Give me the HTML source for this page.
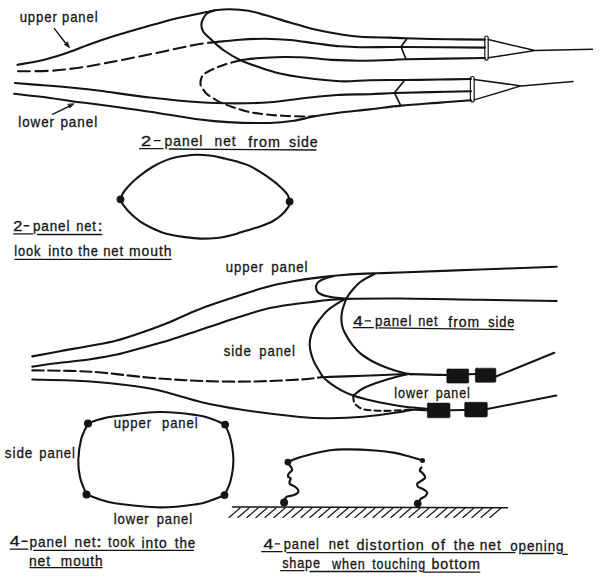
<!DOCTYPE html>
<html><head><meta charset="utf-8"><style>
html,body{margin:0;padding:0;background:#fff;}
svg{display:block;}
svg path, svg rect{fill:none;stroke:#141414;stroke-linecap:round;stroke-linejoin:round;}
svg .f{fill:#141414;}
svg circle{fill:#141414;stroke:none;}
svg text{font-family:"Liberation Sans",sans-serif;fill:#141414;stroke:#141414;stroke-width:0.3px;}
</style></head><body>
<svg width="600" height="580" viewBox="0 0 600 580">

<path d="M17.5 64.7 C21.2 64.0 33.5 62.2 40.0 60.8 C46.5 59.4 51.7 57.8 56.7 56.3 C61.7 54.8 64.5 53.8 70.0 51.8 C75.5 49.8 82.5 46.9 90.0 44.2 C97.5 41.5 105.0 38.9 115.0 35.8 C125.0 32.7 139.8 28.5 150.0 25.6 C160.2 22.7 169.3 20.2 176.0 18.5 C182.7 16.8 184.9 16.6 190.0 15.5 C195.1 14.4 202.5 12.9 206.7 12.0 C210.9 11.1 211.1 10.8 215.0 10.3 C218.9 9.8 224.4 9.1 230.0 9.2 C235.6 9.3 242.5 9.8 248.3 10.8 C254.1 11.8 258.1 13.1 265.0 15.0 C271.9 16.9 284.2 20.8 290.0 22.5 C295.8 24.2 295.8 24.1 300.0 25.3 C304.2 26.5 308.3 28.0 315.0 29.5 C321.7 31.0 332.5 33.0 340.0 34.2 C347.5 35.4 351.7 36.2 360.0 36.8 C368.3 37.4 382.3 37.4 390.0 37.6 C397.7 37.9 396.0 38.0 406.0 38.3 C416.0 38.6 436.8 39.1 450.0 39.3 C463.2 39.5 479.2 39.5 485.0 39.6" stroke-width="2.10"/>
<path d="M215.0 10.3 C213.7 10.8 208.9 12.2 207.0 13.5 C205.1 14.8 204.4 16.2 203.5 18.0 C202.6 19.8 201.3 22.2 201.3 24.5 C201.3 26.8 201.8 29.4 203.5 32.0 C205.2 34.6 208.4 37.0 211.7 40.0 C215.0 43.0 218.6 46.7 223.3 50.0 C228.0 53.3 233.9 57.1 240.0 60.0 C246.1 62.9 253.3 65.2 260.0 67.5 C266.7 69.8 272.8 71.8 280.0 73.5 C287.2 75.2 293.0 76.2 303.0 77.5 C313.0 78.8 328.8 80.8 340.0 81.3 C351.2 81.8 359.3 80.4 370.0 80.2 C380.7 80.0 392.3 80.1 404.0 80.0 C415.7 79.9 428.8 79.7 440.0 79.5 C451.2 79.3 465.8 79.1 471.0 79.0" stroke-width="2.10"/>
<path d="M18.0 71.3 C23.3 71.2 40.5 71.3 50.0 70.8 C59.5 70.3 66.7 69.4 75.0 68.3 C83.3 67.2 87.5 66.5 100.0 64.2 C112.5 61.9 135.0 57.4 150.0 54.3 C165.0 51.2 180.6 47.7 190.0 45.8 C199.4 43.9 202.9 43.6 206.7 43.0 C210.5 42.4 211.9 42.4 213.0 42.3" stroke-width="2.10" stroke-dasharray="12 5.5"/>
<path d="M213.0 42.3 C217.5 41.9 231.3 40.3 240.0 39.7 C248.7 39.1 256.7 38.7 265.0 38.7 C273.3 38.8 281.7 39.2 290.0 40.0 C298.3 40.8 306.7 42.2 315.0 43.3 C323.3 44.3 332.5 45.6 340.0 46.3 C347.5 46.9 351.7 47.1 360.0 47.2 C368.3 47.3 383.2 47.0 390.0 47.0 C396.8 47.0 385.2 46.9 401.0 47.0 C416.8 47.1 471.0 47.5 485.0 47.6" stroke-width="2.10"/>
<path d="M240.0 60.3 C242.8 60.0 249.5 58.8 256.7 58.3 C263.9 57.8 276.1 57.2 283.3 57.0 C290.5 56.8 294.7 57.1 300.0 57.3 C305.3 57.5 309.7 57.9 315.0 58.3 C320.3 58.7 324.2 59.5 331.7 59.9 C339.2 60.3 350.3 60.7 360.0 60.7 C369.7 60.7 382.3 60.2 390.0 60.0 C397.7 59.8 390.2 59.5 406.0 59.2 C421.8 58.9 471.8 58.2 485.0 58.0" stroke-width="2.10"/>
<path d="M240.0 60.3 C239.4 60.5 239.2 60.6 236.7 61.3 C234.2 62.0 228.9 63.2 225.0 64.5 C221.1 65.8 216.6 67.5 213.3 69.0 C210.0 70.5 206.9 72.1 205.0 73.5 C203.1 74.9 202.4 75.4 201.7 77.2 C200.9 79.0 200.3 82.2 200.5 84.2 C200.7 86.2 202.0 87.5 203.0 89.0 C204.0 90.5 204.8 92.1 206.3 93.5 C207.8 94.9 209.7 96.0 212.0 97.5 C214.3 99.0 216.8 100.8 220.3 102.4 C223.8 104.0 228.3 105.6 233.0 107.2 C237.7 108.8 243.0 110.6 248.3 111.8 C253.6 113.0 259.2 113.6 265.0 114.3 C270.8 115.0 276.6 115.4 283.3 115.8 C290.0 116.2 299.9 116.4 305.0 116.5 C310.1 116.6 312.5 116.2 314.0 116.2" stroke-width="2.10" stroke-dasharray="9 5"/>
<path d="M15.0 83.0 C20.8 83.5 40.0 85.0 50.0 85.8 C60.0 86.6 66.7 87.2 75.0 88.0 C83.3 88.8 87.5 89.2 100.0 90.8 C112.5 92.4 133.3 95.6 150.0 97.5 C166.7 99.4 185.6 101.3 200.0 102.3 C214.4 103.3 225.0 103.4 236.7 103.4 C248.4 103.4 258.9 103.1 270.0 102.2 C281.1 101.3 292.2 99.4 303.3 98.2 C314.4 97.0 325.6 95.7 336.7 95.0 C347.8 94.3 360.3 94.5 370.0 94.2 C379.7 93.9 385.0 93.3 395.0 93.0 C405.0 92.7 417.3 92.4 430.0 92.1 C442.7 91.8 464.2 91.4 471.0 91.3" stroke-width="2.10"/>
<path d="M14.2 93.8 C20.2 94.5 39.9 96.7 50.0 98.0 C60.1 99.3 66.7 100.6 75.0 101.7 C83.3 102.8 87.5 103.0 100.0 104.7 C112.5 106.4 133.3 109.2 150.0 111.7 C166.7 114.2 187.1 117.8 200.0 119.5 C212.9 121.2 215.9 121.5 227.6 122.1 C239.3 122.7 258.8 123.2 270.0 123.0 C281.2 122.8 287.8 121.7 295.0 120.6 C302.2 119.5 306.4 117.8 313.3 116.5 C320.2 115.2 327.2 114.2 336.7 113.0 C346.1 111.8 359.3 110.6 370.0 109.4 C380.7 108.2 389.3 106.7 401.0 105.6 C412.7 104.5 428.3 103.5 440.0 102.6 C451.7 101.7 465.8 100.7 471.0 100.3" stroke-width="2.10"/>
<path d="M407 38.6 L401 46.8 L406 59.2" stroke-width="1.7"/>
<path d="M405 79.8 L394.5 92.8 L400.5 105.2" stroke-width="1.7"/>
<rect x="484.8" y="36" width="3.4" height="24.2" rx="1.7" stroke-width="1.2"/>
<rect x="470.4" y="76.5" width="3.8" height="25.4" rx="1.9" stroke-width="1.2"/>
<path d="M488.2 39.6 L535 50.6 L488.2 57.8 M535 50.6 L592.5 49.3" stroke-width="1.5"/>
<path d="M474.2 79.4 L521 85.9 L474.2 99.9 M521 85.9 L573 81.6" stroke-width="1.5"/>
<path d="M54.4 28.6 L66.5 44.2" stroke-width="1.4"/>
<path d="M69.2 47.6 L64.3 44.5 L67.3 42.1 Z" class="f" stroke-width="0.8"/>
<path d="M52.5 114.3 L70 105.8" stroke-width="1.4"/>
<path d="M73.8 103.9 L69.7 108.0 L68.0 104.6 Z" class="f" stroke-width="0.8"/>
<text x="19.65" y="21.70" font-size="14.50" letter-spacing="1.00" textLength="38.18" lengthAdjust="spacingAndGlyphs">upper</text>
<text x="62.06" y="21.70" font-size="14.50" letter-spacing="1.00" textLength="36.41" lengthAdjust="spacingAndGlyphs">panel</text>
<text x="18.30" y="126.80" font-size="14.50" letter-spacing="1.00" textLength="36.60" lengthAdjust="spacingAndGlyphs">lower</text>
<text x="60.38" y="126.80" font-size="14.50" letter-spacing="1.00" textLength="37.71" lengthAdjust="spacingAndGlyphs">panel</text>
<text x="141.08" y="145.80" font-size="14.50" letter-spacing="1.00" textLength="11.39" lengthAdjust="spacingAndGlyphs">2</text>
<text x="164.60" y="146.10" font-size="14.50" letter-spacing="1.00" textLength="38.78" lengthAdjust="spacingAndGlyphs">panel</text>
<text x="214.59" y="146.30" font-size="14.50" letter-spacing="1.00" textLength="21.96" lengthAdjust="spacingAndGlyphs">net</text>
<text x="248.30" y="146.50" font-size="14.50" letter-spacing="1.00" textLength="32.64" lengthAdjust="spacingAndGlyphs">from</text>
<text x="288.91" y="147.00" font-size="14.50" letter-spacing="1.00" textLength="29.79" lengthAdjust="spacingAndGlyphs">side</text>
<path d="M154.2 140.6 L160.1 140.6" stroke-width="1.4" stroke-linecap="butt"/>
<path d="M139.7 148.7 L163.0 148.7" stroke-width="1.3" stroke-linecap="butt"/>
<path d="M169.2 149.0 L316.0 150.0" stroke-width="1.3" stroke-linecap="butt"/>
<path d="M120.5 199.3 C120.9 198.3 121.7 195.4 122.9 193.4 C124.1 191.4 125.4 189.5 127.5 187.2 C129.6 184.9 132.7 181.8 135.3 179.5 C137.9 177.2 140.2 175.4 143.0 173.3 C145.8 171.2 149.2 168.9 152.3 167.0 C155.4 165.1 158.3 163.6 161.6 162.1 C164.9 160.6 168.4 159.2 172.0 158.2 C175.6 157.2 179.3 156.6 183.4 156.0 C187.5 155.4 192.1 154.7 196.8 154.7 C201.5 154.7 207.1 155.2 211.8 155.8 C216.5 156.5 221.0 157.7 225.0 158.6 C229.0 159.5 232.3 160.2 236.0 161.3 C239.7 162.4 243.4 163.2 247.4 164.9 C251.4 166.6 255.7 169.1 259.8 171.7 C263.9 174.2 268.6 177.5 272.2 180.2 C275.8 182.9 278.9 185.5 281.5 188.0 C284.1 190.5 286.3 192.7 287.7 195.0 C289.1 197.3 289.3 200.5 289.6 201.6" stroke-width="2.10"/>
<path d="M120.5 199.3 C120.9 200.1 121.2 201.9 122.9 204.3 C124.6 206.7 127.8 210.8 130.6 213.6 C133.4 216.4 136.5 219.0 139.9 221.3 C143.3 223.6 147.2 225.7 150.8 227.5 C154.4 229.3 158.1 230.9 161.6 232.2 C165.1 233.4 168.4 234.2 172.0 235.0 C175.6 235.8 178.7 236.3 183.4 236.9 C188.1 237.5 194.5 238.4 200.1 238.6 C205.7 238.8 212.1 238.4 216.8 238.0 C221.5 237.6 225.5 236.5 228.5 235.9 C231.5 235.3 231.3 235.4 235.0 234.3 C238.7 233.2 246.1 230.8 250.5 229.4 C254.9 228.0 257.8 227.3 261.4 226.0 C265.0 224.7 268.8 223.3 272.2 221.5 C275.6 219.7 278.8 217.6 281.5 215.1 C284.2 212.6 287.1 208.8 288.5 206.6 C289.9 204.3 289.4 202.4 289.6 201.6" stroke-width="2.10"/>
<circle cx="120.5" cy="199.3" r="3.9" class="f"/>
<circle cx="289.6" cy="201.6" r="3.9" class="f"/>
<text x="13.37" y="230.70" font-size="14.50" letter-spacing="1.00" textLength="10.29" lengthAdjust="spacingAndGlyphs">2</text>
<text x="32.88" y="230.70" font-size="14.50" letter-spacing="1.00" textLength="37.54" lengthAdjust="spacingAndGlyphs">panel</text>
<text x="76.25" y="230.70" font-size="14.50" letter-spacing="1.00" textLength="20.53" lengthAdjust="spacingAndGlyphs">net</text>
<text x="97.67" y="230.70" font-size="14.50" letter-spacing="1.00" textLength="5.83" lengthAdjust="spacingAndGlyphs">:</text>
<path d="M24.2 225.8 L28.8 225.8" stroke-width="1.4" stroke-linecap="butt"/>
<path d="M13.8 233.9 L32.5 233.9" stroke-width="1.3" stroke-linecap="butt"/>
<path d="M37.5 234.5 L101.7 234.5" stroke-width="1.3" stroke-linecap="butt"/>
<text x="14.13" y="256.00" font-size="14.50" letter-spacing="1.00" textLength="27.24" lengthAdjust="spacingAndGlyphs">look</text>
<text x="48.20" y="256.00" font-size="14.50" letter-spacing="1.00" textLength="25.39" lengthAdjust="spacingAndGlyphs">into</text>
<text x="78.31" y="256.00" font-size="14.50" letter-spacing="1.00" textLength="20.34" lengthAdjust="spacingAndGlyphs">the</text>
<text x="103.13" y="256.00" font-size="14.50" letter-spacing="1.00" textLength="20.97" lengthAdjust="spacingAndGlyphs">net</text>
<text x="129.08" y="256.00" font-size="14.50" letter-spacing="1.00" textLength="43.38" lengthAdjust="spacingAndGlyphs">mouth</text>
<path d="M15.0 259.4 L171.0 259.4" stroke-width="1.3" stroke-linecap="butt"/>
<text x="225.75" y="271.60" font-size="14.50" letter-spacing="1.00" textLength="38.18" lengthAdjust="spacingAndGlyphs">upper</text>
<text x="271.24" y="271.60" font-size="14.50" letter-spacing="1.00" textLength="37.27" lengthAdjust="spacingAndGlyphs">panel</text>
<path d="M32.3 356.4 C36.9 355.5 50.3 353.0 60.0 351.2 C69.7 349.4 81.0 347.6 90.5 345.8 C100.0 344.0 107.9 342.8 116.7 340.5 C125.5 338.2 134.4 335.1 143.3 332.0 C152.2 328.9 160.6 325.9 170.0 322.0 C179.4 318.1 188.3 313.3 200.0 308.9 C211.7 304.4 228.9 299.0 240.0 295.3 C251.1 291.6 257.8 289.2 266.7 286.9 C275.6 284.6 284.4 282.9 293.3 281.3 C302.2 279.7 312.2 278.4 320.0 277.4 C327.8 276.4 333.3 275.9 340.0 275.3 C346.7 274.7 353.8 274.2 360.0 273.9 C366.2 273.6 370.8 273.5 377.5 273.3 C384.2 273.1 382.9 273.1 400.0 272.5 C417.1 271.9 453.9 270.5 480.0 269.5 C506.1 268.5 543.9 267.2 556.7 266.7" stroke-width="2.10"/>
<path d="M32.3 366.6 C36.9 366.0 50.3 364.0 60.0 362.8 C69.7 361.6 81.0 360.6 90.5 359.2 C100.0 357.8 107.9 356.6 116.7 354.6 C125.5 352.6 134.4 349.8 143.3 347.4 C152.2 345.0 160.6 342.9 170.0 340.0 C179.4 337.1 188.3 333.9 200.0 330.0 C211.7 326.1 228.9 320.3 240.0 316.8 C251.1 313.3 257.8 310.9 266.7 308.8 C275.6 306.7 286.1 305.3 293.3 304.2 C300.5 303.1 304.7 302.9 310.0 302.3 C315.3 301.7 319.0 300.9 325.0 300.3 C331.0 299.7 333.5 299.2 346.0 298.9 C358.5 298.6 377.7 298.4 400.0 298.5 C422.3 298.6 453.9 299.4 480.0 299.8 C506.1 300.2 543.9 300.8 556.7 301.0" stroke-width="2.10"/>
<path d="M333.0 276.2 C331.7 276.6 327.3 277.6 325.0 278.5 C322.7 279.4 320.5 280.4 319.0 281.5 C317.5 282.6 316.6 283.9 316.2 285.2 C315.8 286.5 316.1 288.1 316.3 289.2 C316.5 290.3 317.0 291.0 317.5 291.7 C318.0 292.4 318.2 292.8 319.5 293.5 C320.8 294.2 322.8 295.2 325.0 295.8 C327.2 296.4 329.0 296.8 332.5 297.3 C336.0 297.8 343.8 298.4 346.0 298.6" stroke-width="2.10"/>
<path d="M32.3 370.4 C42.0 370.6 70.9 370.5 90.5 371.7 C110.1 372.9 131.5 376.1 150.0 377.7 C168.5 379.2 184.5 380.4 201.7 381.0 C218.9 381.6 237.0 381.8 253.4 381.5 C269.8 381.2 288.7 380.2 300.0 379.5 C311.3 378.8 317.5 377.6 321.0 377.2" stroke-width="2.10" stroke-dasharray="11.5 4.4"/>
<path d="M321.0 377.2 C322.5 377.1 322.9 377.1 330.0 376.9 C337.1 376.7 351.6 376.2 363.3 375.8 C375.0 375.4 392.2 374.5 400.0 374.2 C407.8 373.9 405.0 374.0 410.0 374.1 C415.0 374.2 423.8 374.5 430.0 374.6 C436.2 374.8 444.2 374.9 447.0 375.0" stroke-width="2.10"/>
<path d="M32.3 379.5 C42.0 379.8 70.9 380.0 90.5 381.5 C110.1 383.0 131.5 385.1 150.0 388.5 C168.5 391.9 186.6 398.7 201.7 402.2 C216.8 405.7 224.1 407.0 240.5 409.5 C256.9 412.0 285.1 415.5 300.0 417.0 C314.9 418.5 319.4 418.4 330.0 418.3 C340.6 418.2 352.2 417.7 363.3 416.7 C374.4 415.7 388.4 413.7 396.7 412.5 C405.0 411.3 408.2 410.1 413.3 409.7 C418.4 409.3 425.0 410.2 427.3 410.3" stroke-width="2.10"/>
<path d="M374.5 274.0 C372.2 275.2 364.8 278.8 361.0 281.5 C357.2 284.2 354.4 287.8 352.0 290.5 C349.6 293.2 348.2 295.5 346.8 298.0 C345.4 300.5 344.6 303.2 343.8 305.5 C343.0 307.8 342.4 309.6 342.0 312.0 C341.6 314.4 341.3 317.3 341.4 320.0 C341.5 322.7 341.9 325.5 342.8 328.3 C343.7 331.1 345.3 333.9 346.9 336.6 C348.5 339.4 350.2 342.1 352.4 344.8 C354.6 347.6 357.1 350.6 360.0 353.1 C362.9 355.6 366.7 358.0 370.0 360.0 C373.3 362.0 376.1 363.3 380.0 365.0 C383.9 366.7 389.1 368.6 393.3 370.0 C397.5 371.4 401.9 372.6 405.0 373.3 C408.1 374.0 410.8 374.1 412.0 374.2" stroke-width="2.10"/>
<path d="M346.0 298.8 C345.0 299.3 343.0 299.9 340.0 301.8 C337.0 303.7 331.4 307.0 328.0 310.0 C324.6 313.0 321.8 316.7 319.3 320.0 C316.8 323.3 314.7 326.2 313.1 329.7 C311.5 333.1 310.4 337.3 309.9 340.7 C309.4 344.1 309.6 346.9 310.3 350.3 C311.0 353.8 312.3 357.9 313.8 361.4 C315.3 364.8 317.8 368.5 319.3 371.0 C320.8 373.5 321.0 374.5 322.8 376.6 C324.6 378.7 327.2 381.1 330.3 383.4 C333.4 385.7 337.7 388.3 341.4 390.3 C345.1 392.3 348.5 393.8 352.4 395.2 C356.3 396.6 360.4 397.8 365.0 399.0 C369.6 400.2 373.3 401.2 380.0 402.5 C386.7 403.8 397.2 405.7 405.0 406.7 C412.8 407.7 423.3 408.4 427.0 408.7" stroke-width="2.10"/>
<path d="M408.0 374.0 C405.8 374.6 399.7 376.0 395.0 377.3 C390.3 378.6 385.3 379.9 380.0 381.7 C374.7 383.5 367.8 386.0 363.3 388.3 C358.9 390.6 355.0 394.3 353.3 395.5" stroke-width="2.10"/>
<path d="M353.3 395.5 C353.4 396.2 353.2 398.5 353.6 400.0 C354.0 401.5 353.9 403.0 355.5 404.5 C357.1 406.0 359.2 408.1 363.3 409.2 C367.4 410.2 373.9 410.6 380.0 410.8 C386.1 411.0 394.3 410.6 400.0 410.3 C405.7 410.0 411.7 409.4 414.0 409.2" stroke-width="2.10" stroke-dasharray="6 4"/>
<rect x="446.8" y="369" width="21.9" height="14.1" rx="1.2" class="f" stroke-width="0.6"/>
<rect x="475.3" y="368.2" width="20.6" height="14.1" rx="1.2" class="f" stroke-width="0.6"/>
<path d="M468.7 374.3 L475.3 374.0" stroke-width="2.00"/>
<path d="M495.9 376.5 L554.3 352.8" stroke-width="2.00"/>
<rect x="427.3" y="403.1" width="22.7" height="14.7" rx="1.2" class="f" stroke-width="0.6"/>
<rect x="464.7" y="402.3" width="22.6" height="14.7" rx="1.2" class="f" stroke-width="0.6"/>
<path d="M450.0 410.2 L464.7 410.0" stroke-width="2.00"/>
<path d="M487.3 409.0 L556.3 395.6" stroke-width="2.00"/>
<text x="353.35" y="325.50" font-size="14.50" letter-spacing="1.00" textLength="10.85" lengthAdjust="spacingAndGlyphs">4</text>
<text x="374.94" y="326.00" font-size="14.50" letter-spacing="1.00" textLength="37.38" lengthAdjust="spacingAndGlyphs">panel</text>
<text x="418.16" y="326.30" font-size="14.50" letter-spacing="1.00" textLength="20.32" lengthAdjust="spacingAndGlyphs">net</text>
<text x="448.30" y="326.70" font-size="14.50" letter-spacing="1.00" textLength="31.89" lengthAdjust="spacingAndGlyphs">from</text>
<text x="488.14" y="327.10" font-size="14.50" letter-spacing="1.00" textLength="27.06" lengthAdjust="spacingAndGlyphs">side</text>
<path d="M365.4 320.9 L370.4 320.9" stroke-width="1.4" stroke-linecap="butt"/>
<path d="M353.3 327.7 L373.3 327.7" stroke-width="1.3" stroke-linecap="butt"/>
<path d="M378.8 327.9 L513.8 329.6" stroke-width="1.3" stroke-linecap="butt"/>
<text x="223.63" y="355.80" font-size="14.50" letter-spacing="1.00" textLength="28.08" lengthAdjust="spacingAndGlyphs">side</text>
<text x="259.36" y="355.80" font-size="14.50" letter-spacing="1.00" textLength="36.41" lengthAdjust="spacingAndGlyphs">panel</text>
<text x="394.35" y="398.20" font-size="14.50" letter-spacing="1.00" textLength="34.64" lengthAdjust="spacingAndGlyphs">lower</text>
<text x="435.69" y="398.20" font-size="14.50" letter-spacing="1.00" textLength="35.01" lengthAdjust="spacingAndGlyphs">panel</text>
<path d="M88.0 423.4 C90.0 422.7 95.5 420.5 100.0 419.3 C104.5 418.1 105.0 417.5 115.0 416.3 C125.0 415.1 146.5 412.2 160.0 412.0 C173.5 411.8 187.3 413.8 196.0 415.0 C204.7 416.2 207.2 417.4 212.0 419.0 C216.8 420.6 222.9 423.7 225.1 424.6" stroke-width="2.10"/>
<path d="M86.5 494.5 C88.8 495.3 95.2 498.1 100.0 499.5 C104.8 500.9 105.0 501.9 115.0 503.2 C125.0 504.5 146.5 507.2 160.0 507.4 C173.5 507.6 187.3 505.6 196.0 504.4 C204.7 503.2 207.2 501.6 212.0 500.0 C216.8 498.4 222.4 495.9 224.5 495.1" stroke-width="2.10"/>
<path d="M88.0 423.4 C86.9 426.0 82.8 432.9 81.2 439.0 C79.6 445.1 78.5 453.5 78.3 460.0 C78.1 466.5 78.8 472.2 80.2 478.0 C81.6 483.8 85.5 491.8 86.5 494.5" stroke-width="2.10"/>
<path d="M225.1 424.6 C226.0 427.0 229.1 433.1 230.5 439.0 C231.9 444.9 233.4 453.0 233.4 460.0 C233.4 467.0 232.0 475.1 230.5 481.0 C229.0 486.9 225.5 492.8 224.5 495.1" stroke-width="2.10"/>
<circle cx="88.0" cy="423.5" r="4.0" class="f"/>
<circle cx="225.1" cy="424.6" r="3.9" class="f"/>
<circle cx="86.5" cy="494.5" r="4.0" class="f"/>
<circle cx="224.5" cy="495.1" r="3.9" class="f"/>
<text x="113.75" y="427.50" font-size="14.50" letter-spacing="1.00" textLength="38.18" lengthAdjust="spacingAndGlyphs">upper</text>
<text x="162.06" y="427.50" font-size="14.50" letter-spacing="1.00" textLength="36.41" lengthAdjust="spacingAndGlyphs">panel</text>
<text x="4.82" y="457.80" font-size="14.50" letter-spacing="1.00" textLength="28.51" lengthAdjust="spacingAndGlyphs">side</text>
<text x="39.36" y="457.80" font-size="14.50" letter-spacing="1.00" textLength="36.41" lengthAdjust="spacingAndGlyphs">panel</text>
<text x="113.72" y="524.00" font-size="14.50" letter-spacing="1.00" textLength="35.91" lengthAdjust="spacingAndGlyphs">lower</text>
<text x="156.66" y="524.00" font-size="14.50" letter-spacing="1.00" textLength="36.36" lengthAdjust="spacingAndGlyphs">panel</text>
<text x="9.79" y="546.00" font-size="14.50" letter-spacing="1.00" textLength="11.16" lengthAdjust="spacingAndGlyphs">4</text>
<text x="29.53" y="546.60" font-size="14.50" letter-spacing="1.00" textLength="37.81" lengthAdjust="spacingAndGlyphs">panel</text>
<text x="74.59" y="547.00" font-size="14.50" letter-spacing="1.00" textLength="21.96" lengthAdjust="spacingAndGlyphs">net</text>
<text x="96.08" y="547.00" font-size="14.50" letter-spacing="1.00" textLength="7.28" lengthAdjust="spacingAndGlyphs">:</text>
<text x="108.01" y="547.40" font-size="14.50" letter-spacing="1.00" textLength="27.45" lengthAdjust="spacingAndGlyphs">took</text>
<text x="141.57" y="547.60" font-size="14.50" letter-spacing="1.00" textLength="26.22" lengthAdjust="spacingAndGlyphs">into</text>
<text x="174.80" y="547.80" font-size="14.50" letter-spacing="1.00" textLength="21.32" lengthAdjust="spacingAndGlyphs">the</text>
<path d="M22.1 541.3 L27.1 541.3" stroke-width="1.4" stroke-linecap="butt"/>
<path d="M10.2 549.2 L27.9 549.2" stroke-width="1.3" stroke-linecap="butt"/>
<path d="M33.8 550.3 L193.5 550.3" stroke-width="1.3" stroke-linecap="butt"/>
<text x="28.88" y="565.50" font-size="14.50" letter-spacing="1.00" textLength="22.18" lengthAdjust="spacingAndGlyphs">net</text>
<text x="60.84" y="565.50" font-size="14.50" letter-spacing="1.00" textLength="42.74" lengthAdjust="spacingAndGlyphs">mouth</text>
<path d="M29.8 567.6 L102.2 567.6" stroke-width="1.3" stroke-linecap="butt"/>
<path d="M287.9 462.1 C289.9 461.3 293.0 459.2 300.0 457.2 C307.0 455.2 321.8 451.6 330.0 450.3 C338.2 449.0 341.5 449.4 349.0 449.4 C356.5 449.4 367.3 449.9 375.0 450.5 C382.7 451.1 389.2 451.9 395.0 452.9 C400.8 453.9 404.9 455.2 409.5 456.5 C414.1 457.8 420.3 459.8 422.5 460.5" stroke-width="2.10"/>
<path d="M289.3 464.8 C289.6 465.3 290.9 466.7 291.4 467.6 C291.8 468.5 292.5 469.3 292.0 470.3 C291.5 471.3 289.3 472.8 288.6 473.8 C287.9 474.9 287.6 475.8 288.0 476.6 C288.4 477.4 290.4 477.8 290.7 478.6 C291.0 479.4 289.7 480.5 289.6 481.4 C289.5 482.3 289.2 483.3 290.0 484.1 C290.8 484.9 292.8 485.3 294.1 486.2 C295.4 487.1 297.4 488.5 298.0 489.7 C298.6 490.9 298.4 492.2 297.6 493.1 C296.8 494.0 295.1 494.6 293.4 495.2 C291.7 495.8 288.7 495.9 287.2 496.6 C285.7 497.3 284.9 498.9 284.5 499.3" stroke-width="2.20"/>
<path d="M421.5 467.5 C421.2 468.0 419.5 469.3 419.8 470.4 C420.1 471.5 422.5 472.8 423.4 474.0 C424.3 475.2 425.5 476.5 425.2 477.6 C424.9 478.7 422.9 479.6 421.6 480.6 C420.3 481.6 417.9 482.6 417.3 483.6 C416.7 484.6 417.1 485.8 418.0 486.7 C418.9 487.6 421.3 488.1 422.8 489.0 C424.3 489.9 426.5 491.0 427.0 492.1 C427.5 493.2 426.8 494.6 425.8 495.7 C424.8 496.8 422.1 497.8 421.0 498.7 C419.9 499.6 419.5 500.6 419.2 501.0" stroke-width="2.20"/>
<circle cx="287.9" cy="462.1" r="3.4" class="f"/>
<circle cx="422.5" cy="460.5" r="2.5" class="f"/>
<circle cx="284.1" cy="502.6" r="4.0" class="f"/>
<circle cx="417.7" cy="503.6" r="3.8" class="f"/>
<path d="M232.5 507.0 L507.5 507.8" stroke-width="1.60"/>
<path d="M229.0 517.5 L240.0 508 M238.0 517.5 L249.0 508 M247.0 517.5 L258.0 508 M256.0 517.5 L267.0 508 M265.0 517.5 L276.0 508 M274.0 517.5 L285.0 508 M283.0 517.5 L294.0 508 M292.0 517.5 L303.0 508 M301.0 517.5 L312.0 508 M310.0 517.5 L321.0 508 M319.0 517.5 L330.0 508 M328.0 517.5 L339.0 508 M337.0 517.5 L348.0 508 M346.0 517.5 L357.0 508 M355.0 517.5 L366.0 508 M364.0 517.5 L375.0 508 M373.0 517.5 L384.0 508 M382.0 517.5 L393.0 508 M391.0 517.5 L402.0 508 M400.0 517.5 L411.0 508 M409.0 517.5 L420.0 508 M418.0 517.5 L429.0 508 M427.0 517.5 L438.0 508 M436.0 517.5 L447.0 508 M445.0 517.5 L456.0 508 M454.0 517.5 L465.0 508 M463.0 517.5 L474.0 508 M472.0 517.5 L483.0 508 M481.0 517.5 L492.0 508 M490.0 517.5 L501.0 508" stroke-width="1.15"/>
<text x="263.59" y="548.50" font-size="14.50" letter-spacing="1.00" textLength="11.04" lengthAdjust="spacingAndGlyphs">4</text>
<text x="283.77" y="549.10" font-size="14.50" letter-spacing="1.00" textLength="35.98" lengthAdjust="spacingAndGlyphs">panel</text>
<text x="328.63" y="549.40" font-size="14.50" letter-spacing="1.00" textLength="20.86" lengthAdjust="spacingAndGlyphs">net</text>
<text x="356.40" y="549.80" font-size="14.50" letter-spacing="1.00" textLength="68.23" lengthAdjust="spacingAndGlyphs">distortion</text>
<text x="431.37" y="550.10" font-size="14.50" letter-spacing="1.00" textLength="14.65" lengthAdjust="spacingAndGlyphs">of</text>
<text x="453.79" y="550.20" font-size="14.50" letter-spacing="1.00" textLength="21.75" lengthAdjust="spacingAndGlyphs">the</text>
<text x="479.79" y="550.40" font-size="14.50" letter-spacing="1.00" textLength="21.96" lengthAdjust="spacingAndGlyphs">net</text>
<text x="510.14" y="550.60" font-size="14.50" letter-spacing="1.00" textLength="54.36" lengthAdjust="spacingAndGlyphs">opening</text>
<path d="M275.4 543.9 L279.6 543.9" stroke-width="1.4" stroke-linecap="butt"/>
<path d="M261.7 551.7 L282.1 551.7" stroke-width="1.3" stroke-linecap="butt"/>
<path d="M287.0 552.6 L515.0 552.6" stroke-width="1.3" stroke-linecap="butt"/>
<path d="M522.0 553.5 L553.3 553.5" stroke-width="1.3" stroke-linecap="butt"/>
<path d="M562.7 554.3 L567.3 554.3" stroke-width="1.3" stroke-linecap="butt"/>
<text x="282.15" y="568.30" font-size="14.50" letter-spacing="1.00" textLength="38.78" lengthAdjust="spacingAndGlyphs">shape</text>
<text x="332.02" y="568.60" font-size="14.50" letter-spacing="1.00" textLength="33.67" lengthAdjust="spacingAndGlyphs">when</text>
<text x="372.21" y="569.00" font-size="14.50" letter-spacing="1.00" textLength="53.74" lengthAdjust="spacingAndGlyphs">touching</text>
<text x="431.38" y="569.40" font-size="14.50" letter-spacing="1.00" textLength="49.55" lengthAdjust="spacingAndGlyphs">bottom</text>
<path d="M280.5 570.6 L304.0 570.6" stroke-width="1.3" stroke-linecap="butt"/>
<path d="M310.0 571.5 L416.3 571.5" stroke-width="1.3" stroke-linecap="butt"/>
<path d="M423.7 572.2 L479.7 572.2" stroke-width="1.3" stroke-linecap="butt"/>
</svg>
</body></html>
